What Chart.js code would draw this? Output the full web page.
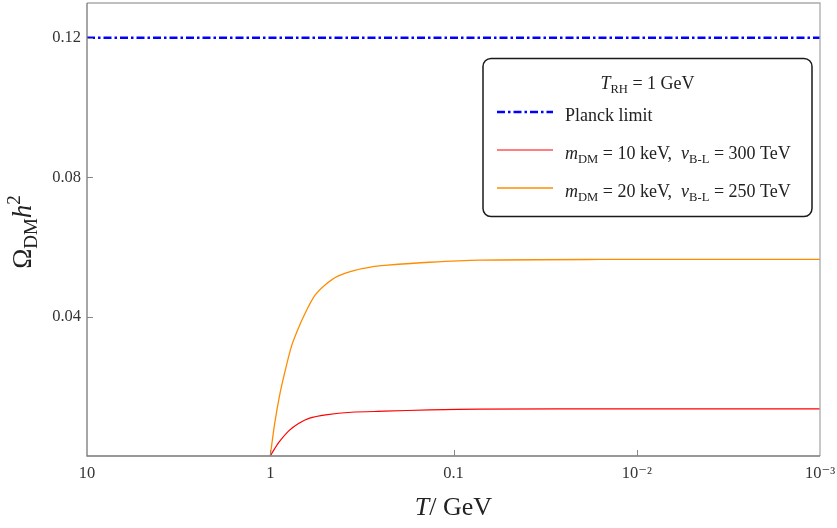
<!DOCTYPE html>
<html>
<head>
<meta charset="utf-8">
<title>Omega DM h2</title>
<script src="https://cdn.jsdelivr.net/npm/chart.js@4/dist/chart.umd.min.js"></script>
<style>
  html, body { margin: 0; padding: 0; background: #fff; }
  #wrap { width: 837px; height: 528px; }
</style>
</head>
<body>
<div id="wrap"><canvas id="relic"></canvas></div>
<script>
const SERIF = "'Liberation Serif', 'DejaVu Serif', serif"

// Temperatura (GeV) e abundância para cada curva
const planckT = [10, 0.001]
const planckOmega = [0.12, 0.12]

const redT = [1, 0.946, 0.896, 0.79, 0.697, 0.615, 0.498, 0.361, 0.237, 0.135, 0.0718, 0.01, 0.001]
const redOmega = [0, 0.0021, 0.004, 0.0073, 0.0094, 0.0108, 0.0118, 0.01256, 0.01285, 0.01325, 0.01348, 0.0135, 0.0135]

const orangeT = [1, 0.946, 0.889, 0.834, 0.767, 0.706, 0.649, 0.572, 0.504, 0.428, 0.346, 0.279, 0.237, 0.135, 0.0718, 0.0159, 0.001]
const orangeOmega = [0, 0.0093, 0.0174, 0.0239, 0.0314, 0.0364, 0.0407, 0.046, 0.049, 0.0516, 0.0533, 0.0543, 0.0547, 0.0556, 0.0562, 0.0564, 0.0564]

// Ticks dos eixos
const xTicks = [10, 1, 0.1, 0.01, 0.001]
const xTickLabels = ["10", "1", "0.1", "10\u207B\u00B2", "10\u207B\u00B3"]
const yTicks = [0.04, 0.08, 0.12]
const yTickLabels = ["0.04", "0.08", "0.12"]

// Rótulos (*itálico*, _{sub}, ^{sup})
const seriesLabels = [
  "Planck limit",
  "*m*_{DM} = 10 keV,  *v*_{B-L} = 300 TeV",
  "*m*_{DM} = 20 keV,  *v*_{B-L} = 250 TeV",
]
const legendTitle = "*T*_{RH} = 1 GeV"
const xTitle = "*T*/ GeV"
const yTitle = "Ω_{DM}*h*^{2}"

const toPoints = (xs, ys) => xs.map((x, i) => ({ x: x, y: ys[i] }))

// Quebra o texto em partes com estilo
function parseRich(s) {
  return s
    .split(/(\*[^*]+\*|_\{[^}]+\}|\^\{[^}]+\})/)
    .filter(Boolean)
    .map((tok) => {
      if (tok[0] === "*") return { t: tok.slice(1, -1), it: true }
      if (tok.startsWith("_{")) return { t: tok.slice(2, -1), sub: true }
      if (tok.startsWith("^{")) return { t: tok.slice(2, -1), sup: true }
      return { t: tok }
    })
}

function partFont(p, size) {
  const s = p.sub || p.sup ? size * 0.7 : size
  return (p.it ? "italic " : "") + s + "px " + SERIF
}

function drawRich(ctx, text, x, y, size, align) {
  const parts = parseRich(text)
  let width = 0
  parts.forEach((p) => {
    ctx.font = partFont(p, size)
    p.w = ctx.measureText(p.t).width
    width += p.w
  })
  let cx = align === "center" ? x - width / 2 : x
  ctx.textAlign = "left"
  ctx.textBaseline = "alphabetic"
  parts.forEach((p) => {
    ctx.font = partFont(p, size)
    let dy = 0
    if (p.sub) dy = size * 0.22
    if (p.sup) dy = -size * 0.4
    ctx.fillText(p.t, cx, y + dy)
    cx += p.w
  })
}

// Moldura, ticks internos, títulos dos eixos e legenda
const decorPlugin = {
  id: "decor",
  afterDraw(chart) {
    const ctx = chart.ctx
    const a = chart.chartArea
    const xs = chart.scales.x
    const ys = chart.scales.y
    ctx.save()

    ctx.lineWidth = 1.3
    ctx.strokeStyle = "#aaaaaa"
    ctx.beginPath()
    ctx.moveTo(a.left, a.top)
    ctx.lineTo(a.right, a.top)
    ctx.lineTo(a.right, a.bottom)
    ctx.stroke()
    ctx.strokeStyle = "#777777"
    ctx.beginPath()
    ctx.moveTo(a.left, a.top)
    ctx.lineTo(a.left, a.bottom)
    ctx.lineTo(a.right, a.bottom)
    ctx.stroke()

    ctx.lineWidth = 1
    ctx.strokeStyle = "#888888"
    yTicks.forEach((v) => {
      const py = Math.round(ys.getPixelForValue(v)) + 0.5
      ctx.beginPath()
      ctx.moveTo(a.left, py)
      ctx.lineTo(a.left + 6, py)
      ctx.stroke()
    })
    xTicks.slice(1, -1).forEach((v) => {
      const px = Math.round(xs.getPixelForValue(v)) + 0.5
      ctx.beginPath()
      ctx.moveTo(px, a.bottom)
      ctx.lineTo(px, a.bottom - 6)
      ctx.stroke()
    })

    ctx.fillStyle = "#222222"
    drawRich(ctx, xTitle, (a.left + a.right) / 2, 515, 26, "center")
    ctx.save()
    ctx.translate(31, 232)
    ctx.rotate(-Math.PI / 2)
    drawRich(ctx, yTitle, 0, 0, 27, "center")
    ctx.restore()

    // caixa da legenda
    const bx = 483, by = 58.5, bw = 329, bh = 158, r = 8
    ctx.beginPath()
    ctx.roundRect(bx, by, bw, bh, r)
    ctx.fillStyle = "#ffffff"
    ctx.fill()
    ctx.lineWidth = 1.5
    ctx.strokeStyle = "#1a1a1a"
    ctx.stroke()

    ctx.fillStyle = "#222222"
    drawRich(ctx, legendTitle, bx + bw / 2, 89, 18, "center")

    const rows = [112, 150, 188]
    chart.data.datasets.forEach((ds, i) => {
      const ly = rows[i]
      ctx.save()
      ctx.strokeStyle = ds.borderColor
      ctx.lineWidth = ds.borderWidth
      ctx.setLineDash(ds.borderDash || [])
      ctx.beginPath()
      ctx.moveTo(497, ly)
      ctx.lineTo(553, ly)
      ctx.stroke()
      ctx.restore()
      ctx.fillStyle = "#222222"
      drawRich(ctx, ds.label, 565, ly + 9, 18, "left")
    })

    ctx.restore()
  },
}

const ctx = document.getElementById("relic").getContext("2d")

new Chart(ctx, {
  type: "line",
  data: {
    datasets: [
      {
        label: seriesLabels[0],
        data: toPoints(planckT, planckOmega),
        borderColor: "#0000ff",
        borderWidth: 2.5,
        borderDash: [8, 3, 2.5, 3],
        pointRadius: 0,
      },
      {
        label: seriesLabels[1],
        data: toPoints(redT, redOmega),
        borderColor: "#ff0000",
        borderWidth: 1.2,
        tension: 0.3,
        pointRadius: 0,
      },
      {
        label: seriesLabels[2],
        data: toPoints(orangeT, orangeOmega),
        borderColor: "#ff8c00",
        borderWidth: 1.3,
        tension: 0.3,
        pointRadius: 0,
      },
    ],
  },
  options: {
    responsive: true,
    maintainAspectRatio: false,
    animation: false,
    layout: { padding: { top: 3, right: 17, left: 0, bottom: 0 } },
    plugins: {
      legend: { display: false },
      tooltip: { enabled: false },
    },
    scales: {
      x: {
        type: "logarithmic",
        reverse: true,
        min: 0.001,
        max: 10,
        grid: { display: false, drawTicks: false },
        border: { display: false },
        afterBuildTicks: (scale) => {
          scale.ticks = xTicks.map((v) => ({ value: v }))
        },
        afterFit: (scale) => {
          scale.height = 72
          scale.paddingLeft = 0
          scale.paddingRight = 0
        },
        ticks: {
          autoSkip: false,
          maxRotation: 0,
          padding: 8,
          color: "#333333",
          font: { family: SERIF, size: 16.5 },
          callback: (v) => {
            const i = xTicks.findIndex((t) => Math.abs(Math.log10(t) - Math.log10(v)) < 1e-6)
            return i >= 0 ? xTickLabels[i] : ""
          },
        },
      },
      y: {
        min: 0,
        max: 0.13,
        grid: { display: false, drawTicks: false },
        border: { display: false },
        afterBuildTicks: (scale) => {
          scale.ticks = yTicks.map((v) => ({ value: v }))
        },
        afterFit: (scale) => {
          scale.width = 87
          scale.paddingTop = 0
          scale.paddingBottom = 0
        },
        ticks: {
          padding: 6,
          color: "#333333",
          font: { family: SERIF, size: 16.5 },
          callback: (v) => {
            const i = yTicks.findIndex((t) => Math.abs(t - v) < 1e-9)
            return i >= 0 ? yTickLabels[i] : ""
          },
        },
      },
    },
  },
  plugins: [decorPlugin],
})
</script>
</body>
</html>
